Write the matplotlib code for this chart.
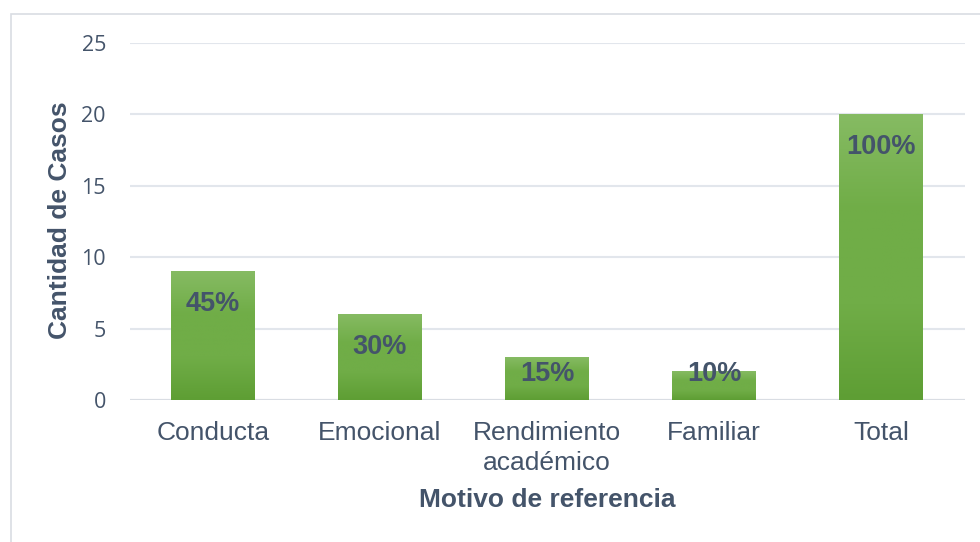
import matplotlib
matplotlib.use("Agg")
import matplotlib.pyplot as plt
import numpy as np
from matplotlib.patches import Rectangle
from matplotlib.colors import LinearSegmentedColormap

categories = ["Conducta", "Emocional", "Rendimiento\nacadémico", "Familiar", "Total"]
values = [9, 6, 3, 2, 20]
pct_labels = ["45%", "30%", "15%", "10%", "100%"]
yticks = [0, 5, 10, 15, 20, 25]

text_color = "#44546A"
grid_color = "#E2E6EC"

plt.rcParams['font.family'] = ['Liberation Sans', 'DejaVu Sans']

fig = plt.figure(figsize=(9.8, 5.42), dpi=100)
ax = fig.add_axes([129.5/980, 1 - 400/542, 835/980, 357/542])

# frame around the chart
fig.patches.append(Rectangle((10.5/980, -0.05), 1.0, (542-13.5)/542 + 0.05,
                             transform=fig.transFigure, fill=False,
                             edgecolor="#D9DDE3", linewidth=1.2, zorder=0))

x = np.arange(len(categories))
bars = ax.bar(x, values, width=0.5, color="#70AD47", zorder=2, linewidth=0)

cmap = LinearSegmentedColormap.from_list("g", ["#5E9E34", "#70AD47", "#70AD47", "#86BB63"])
grad = np.linspace(0, 1, 256).reshape(-1, 1)
for b in bars:
    x0, w, h = b.get_x(), b.get_width(), b.get_height()
    im = ax.imshow(grad, cmap=cmap, aspect='auto', origin='lower',
                   extent=[x0, x0 + w, 0, h], zorder=3)
    im.set_clip_path(b)

# "inside end" labels, kept from dropping below the baseline area
for b, lab in zip(bars, pct_labels):
    ypos = max(b.get_height() - 2.3, 1.8)
    ax.text(b.get_x() + b.get_width()/2, ypos, lab,
            ha='center', va='center', fontsize=19.5, fontweight='bold',
            color=text_color, zorder=5)

ax.set_xlim(-0.5, len(categories) - 0.5)
ax.set_ylim(0, 25)
ax.set_yticks(yticks)
ax.set_xticks(x)
ax.set_xticklabels(categories, fontsize=19, color=text_color, linespacing=1.32)
ax.tick_params(axis='y', labelcolor=text_color, length=0, pad=17)
ax.tick_params(axis='x', length=0, pad=15)
for lab in ax.get_yticklabels():
    lab.set_family(['Open Sans', 'DejaVu Sans'])
    lab.set_fontsize(15.5)

ax.yaxis.grid(True, color=grid_color, linewidth=1.5, zorder=0)
ax.set_axisbelow(True)
for s in ax.spines.values():
    s.set_visible(False)
ax.axhline(0, color="#D9DDE3", linewidth=1.5, zorder=1)

ax.set_xlabel("Motivo de referencia", fontsize=19, fontweight='bold', color=text_color)
ax.set_ylabel("Cantidad de Casos", fontsize=19, fontweight='bold', color=text_color)
ax.xaxis.set_label_coords(547/980, 1 - 500/542, transform=fig.transFigure)
ax.xaxis.label.set_va('center')
ax.yaxis.set_label_coords(60/980, 1 - 220/542, transform=fig.transFigure)
ax.yaxis.label.set_va('center')

fig.savefig("out.png", dpi=100)
